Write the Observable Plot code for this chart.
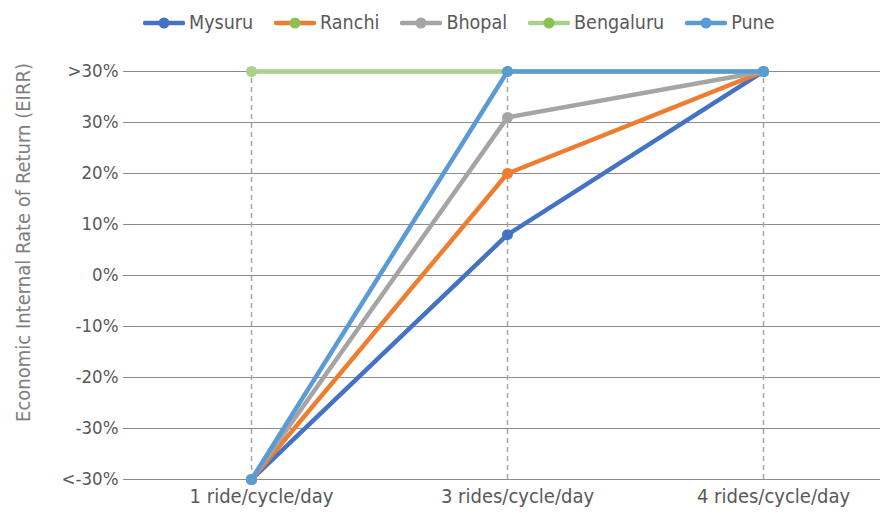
<!DOCTYPE html>
<html>
<head>
<meta charset="utf-8">
<script src="https://cdn.jsdelivr.net/npm/d3@7"></script>
<script src="https://cdn.jsdelivr.net/npm/@observablehq/plot@0.6"></script>
<style>
  html, body { margin: 0; padding: 0; background: #fff; }
  body { width: 880px; height: 513px; overflow: hidden; font-family: "Liberation Sans Narrow", "DejaVu Sans Condensed", Roboto, sans-serif; color: #595959; }
  #legend { height: 45px; display: flex; align-items: center; padding-left: 143px; box-sizing: border-box; }
  .item { display: flex; align-items: center; margin-right: 21px; font-size: 19.5px; line-height: 22px; }
  .item svg { margin-right: 4px; }
</style>
</head>
<body>
<div id="legend"></div>
<div id="chart"></div>
<script>
const categories = ["1 ride/cycle/day", "3 rides/cycle/day", "4 rides/cycle/day"];
const cities = ["Mysuru", "Ranchi", "Bhopal", "Bengaluru", "Pune"];
const mysuru = [-40, 8, 40];
const ranchi = [-40, 20, 40];
const bhopal = [-40, 31, 40];
const bengaluru = [40, 40, 40];
const pune = [-40, 40, 40];
const seriesValues = [mysuru, ranchi, bhopal, bengaluru, pune];
const colors = ["#4472C4", "#ED7D31", "#A5A5A5", "#A9D18E", "#5B9BD5"];
const legendDotColors = ["#4472C4", "#8CC152", "#A5A5A5", "#8CC152", "#5B9BD5"];
const yTicks = [-40, -30, -20, -10, 0, 10, 20, 30, 40];
const yTickLabels = ["<-30%", "-30%", "-20%", "-10%", "0%", "10%", "20%", "30%", ">30%"];
const yTitle = "Economic Internal Rate of Return (EIRR)";

const fontStack = '"Liberation Sans Narrow", "DejaVu Sans Condensed", Roboto, sans-serif';

// legend
const legend = d3.select("#legend");
cities.forEach((c, i) => {
  const it = legend.append("div").attr("class", "item");
  const s = it.append("svg").attr("width", 42).attr("height", 14);
  s.append("line").attr("x1", 2).attr("x2", 40).attr("y1", 7).attr("y2", 7)
    .attr("stroke", colors[i]).attr("stroke-width", 4.5).attr("stroke-linecap", "round");
  s.append("circle").attr("cx", 21).attr("cy", 7).attr("r", 5.5).attr("fill", legendDotColors[i]);
  it.append("span").text(c);
});

const data = [];
cities.forEach((c, i) => categories.forEach((cat, j) => data.push({city: c, cat, v: seriesValues[i][j]})));

const marks = [
  Plot.ruleY(yTicks, {stroke: "#8c8c8c", strokeWidth: 1}),
  Plot.ruleX(categories, {y1: d3.min(yTicks), y2: d3.max(yTicks), stroke: "#a6a6a6", strokeWidth: 1.5, strokeDasharray: "5,4"}),
  Plot.axisY({ticks: yTicks, tickFormat: d => yTickLabels[yTicks.indexOf(d)], tickSize: 0, tickPadding: 5, label: null, fontSize: 18.5}),
  Plot.axisX({tickSize: 0, tickPadding: 9, dx: 10, label: null, fontSize: 20}),
  Plot.text([yTitle], {frameAnchor: "left", textAnchor: "middle", rotate: -90, dx: -100, dy: -33, fontSize: 20, fill: "#7f7f7f"})
];
cities.forEach((c, i) => {
  const sd = data.filter(d => d.city === c);
  marks.push(Plot.line(sd, {x: "cat", y: "v", stroke: colors[i], strokeWidth: 4.5}));
  marks.push(Plot.dot(sd, {x: "cat", y: "v", fill: colors[i], r: 5.5}));
});

const chart = Plot.plot({
  width: 880,
  height: 468,
  marginTop: 26,
  marginBottom: 34,
  marginLeft: 123,
  marginRight: 0,
  x: {type: "point", domain: categories, range: [251, 763], padding: 0, axis: null},
  y: {domain: [-40, 40], axis: null},
  style: {fontFamily: fontStack, fontSize: "16px", color: "#595959", background: "#fff"},
  marks
});
document.getElementById("chart").appendChild(chart);
</script>
</body>
</html>
